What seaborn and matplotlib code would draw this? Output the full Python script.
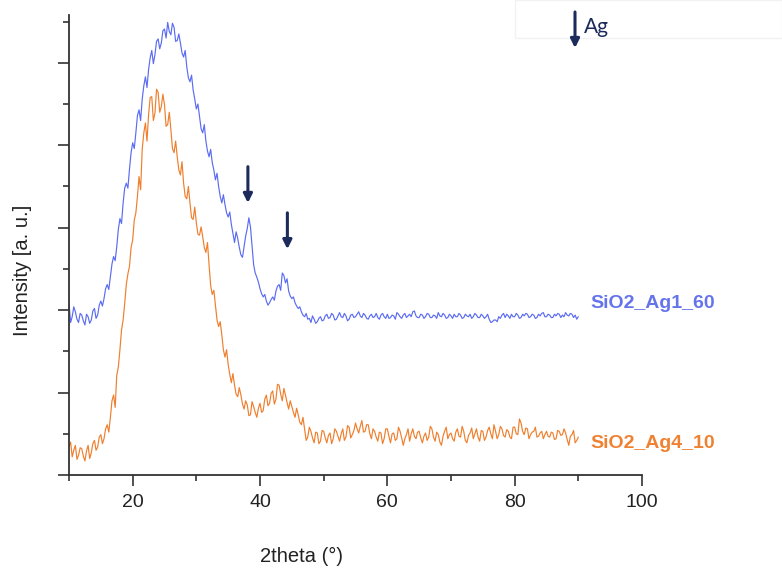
import numpy as np
import pandas as pd
import matplotlib
matplotlib.use("Agg")
import matplotlib.pyplot as plt
import seaborn as sns
from matplotlib.ticker import MultipleLocator, NullFormatter
from matplotlib.patches import Rectangle, FancyArrowPatch

# ---------------- data ----------------
two_theta_start = 10.0
two_theta_stop = 90.0
two_theta_step = 0.25

series_names = ["SiO2_Ag1_60", "SiO2_Ag4_10"]

# SiO2_Ag1_60 (blue), intensity [a.u.] every 0.25 deg from 10 to 90
ag1_60 = [
    2090, 1850, 1920, 2040, 1980, 1890, 1850, 1960, 1940, 1870, 1820, 1950, 1920, 1840, 1880, 1990, 2020, 1900, 1940, 2060,  # 10
    2110, 2050, 2140, 2260, 2310, 2250, 2400, 2560, 2650, 2600, 2770, 2980, 3110, 3050, 3300, 3480, 3540, 3480, 3710, 3910,  # 15
    4030, 3960, 4150, 4360, 4430, 4300, 4560, 4720, 4830, 4700, 4920, 5060, 5150, 4990, 5100, 5260, 5290, 5170, 5240, 5390,  # 20
    5410, 5300, 5490, 5380, 5340, 5480, 5430, 5260, 5270, 5350, 5240, 5120, 5070, 5150, 4950, 4820, 4770, 4850, 4670, 4560,  # 25
    4440, 4500, 4350, 4200, 4150, 4250, 4050, 3930, 3860, 3950, 3790, 3700, 3580, 3660, 3500, 3380, 3300, 3400, 3280, 3180,  # 30
    3130, 3190, 3040, 2930, 2820, 2950, 2870, 2760, 2670, 2640, 2770, 2900, 2990, 3120, 3010, 2780, 2550, 2450, 2400, 2340,  # 35
    2260, 2200, 2160, 2190, 2110, 2060, 2090, 2130, 2160, 2120, 2230, 2290, 2310, 2240, 2450, 2420, 2330, 2380, 2230, 2170,  # 40
    2140, 2160, 2090, 2050, 2020, 2040, 1980, 1940, 1920, 1960, 1890, 1900, 1850, 1930, 1890, 1840, 1860, 1900, 1920, 1870,  # 45
    1880, 1930, 1950, 1900, 1910, 1960, 1940, 1880, 1890, 1930, 1970, 1920, 1910, 1960, 1930, 1870, 1890, 1940, 1950, 1910,  # 50
    1920, 1950, 1980, 1930, 1910, 1960, 1940, 1900, 1890, 1930, 1950, 1910, 1920, 1960, 1910, 1890, 1940, 1960, 1920, 1900,  # 55
    1950, 1900, 1910, 1940, 1930, 1890, 1970, 1950, 1920, 1900, 1940, 1960, 1910, 1930, 1950, 1920, 1980, 1990, 1930, 1910,  # 60
    1910, 1950, 1940, 1900, 1920, 1960, 1950, 1910, 1910, 1940, 1930, 1900, 1970, 1930, 1920, 1960, 1940, 1900, 1910, 1950,  # 65
    1930, 1900, 1950, 1920, 1920, 1960, 1940, 1900, 1910, 1950, 1930, 1920, 1950, 1900, 1920, 1960, 1940, 1910, 1910, 1950,  # 70
    1930, 1900, 1920, 1950, 1890, 1850, 1860, 1880, 1880, 1860, 1920, 1900, 1940, 1960, 1910, 1950, 1930, 1900, 1950, 1920,  # 75
    1920, 1960, 1940, 1900, 1910, 1950, 1930, 1960, 1950, 1910, 1920, 1950, 1940, 1900, 1910, 1950, 1930, 1960, 1970, 1920,  # 80
    1920, 1950, 1940, 1910, 1910, 1950, 1930, 1960, 1950, 1910, 1940, 1920, 1970, 1940, 1930, 1960, 1950, 1910, 1940, 1890,  # 85
    1920,                                                                                                                    # 90
]

# SiO2_Ag4_10 (orange)
ag4_10 = [
    340, 400, 220, 300, 360, 190, 240, 330, 320, 230, 170, 290, 360, 200, 270, 380, 420, 300, 340, 460,                      # 10
    490, 380, 440, 560, 610, 520, 700, 900, 970, 820, 1210, 1310, 1520, 1760, 1880, 2080, 2310, 2440, 2530, 2760,            # 15
    2850, 3090, 3180, 3380, 3620, 3460, 3950, 4150, 4270, 4050, 4370, 4580, 4590, 4300, 4390, 4680, 4640, 4400, 4470, 4620,  # 20
    4490, 4230, 4250, 4400, 4190, 3960, 3910, 4050, 3860, 3700, 3640, 3800, 3540, 3380, 3350, 3500, 3300, 3120, 3100, 3250,  # 25
    3060, 2920, 2910, 3010, 2890, 2760, 2700, 2820, 2550, 2300, 2190, 2240, 2060, 1880, 1800, 1860, 1700, 1520, 1430, 1520,  # 30
    1340, 1220, 1120, 1230, 1090, 980, 950, 1060, 970, 860, 800, 900, 850, 720, 730, 890, 830, 760, 700, 810,                # 35
    870, 760, 780, 920, 970, 840, 870, 990, 1020, 860, 920, 1100, 1090, 980, 900, 1050, 970, 880, 800, 900,                  # 40
    830, 760, 700, 810, 730, 640, 610, 700, 560, 420, 460, 580, 530, 450, 390, 520, 510, 380, 410, 540,                      # 45
    530, 450, 390, 480, 510, 380, 440, 560, 530, 470, 410, 500, 560, 420, 460, 600, 580, 450, 490, 540,                      # 50
    630, 560, 510, 590, 660, 520, 530, 610, 610, 500, 440, 560, 530, 460, 410, 520, 510, 380, 440, 560,                      # 55
    560, 470, 390, 500, 510, 420, 440, 580, 530, 450, 360, 440, 490, 560, 410, 500, 560, 470, 440, 520,                      # 60
    530, 450, 390, 470, 510, 420, 460, 590, 560, 460, 410, 520, 490, 400, 360, 470, 530, 580, 440, 490,                      # 65
    510, 440, 410, 520, 560, 470, 460, 590, 530, 420, 390, 480, 510, 570, 440, 500, 560, 460, 410, 540,                      # 70
    530, 420, 460, 540, 580, 500, 440, 610, 530, 440, 490, 590, 560, 480, 460, 550, 530, 460, 440, 580,                      # 75
    580, 500, 490, 680, 630, 530, 490, 570, 560, 440, 490, 520, 530, 580, 460, 470, 510, 530, 440, 490,                      # 80
    530, 470, 460, 520, 510, 430, 440, 540, 530, 480, 490, 560, 510, 430, 360, 470, 490, 540, 390, 420,                      # 85
    460,                                                                                                                     # 90
]

ag_peaks = [38.1, 44.3]               # Ag reflections marked by arrows
ag_arrow_tops = [3740, 3180]
ag_arrow_tips = [3300, 2740]

x_ticks = [20, 40, 60, 80, 100]

# ---------------- build table ----------------
two_theta = np.round(np.arange(two_theta_start, two_theta_stop + two_theta_step / 2, two_theta_step), 2)
df = pd.DataFrame({
    "2theta": np.concatenate([two_theta, two_theta]),
    "Intensity": ag1_60 + ag4_10,
    "sample": [series_names[0]] * len(ag1_60) + [series_names[1]] * len(ag4_10),
})

blue_line = "#5b6cf2"
blue_text = "#6674ec"
orange_line = "#ef7f2d"
orange_text = "#ee8232"
navy = "#1c2a5c"

sns.set_theme(style="ticks")
plt.rcParams["font.family"] = ["Liberation Sans", "DejaVu Sans"]

fig = plt.figure(figsize=(7.82, 5.72), dpi=100)
W, H = 782, 572
ax = fig.add_axes([69 / W, 1 - 475 / H, (642 - 69) / W, (475 - 15) / H])

sns.lineplot(data=df, x="2theta", y="Intensity", hue="sample",
             palette={series_names[0]: blue_line, series_names[1]: orange_line},
             estimator=None, sort=False, linewidth=0.85, legend=False, ax=ax)

ax.set_xlim(10, 100)
ax.set_ylim(0, 5580)
ax.set_xticks(x_ticks)
ax.xaxis.set_minor_locator(MultipleLocator(10))
ax.yaxis.set_major_locator(MultipleLocator(1000))
ax.yaxis.set_minor_locator(MultipleLocator(500))
ax.yaxis.set_major_formatter(NullFormatter())
ax.set_xlabel("")
ax.set_ylabel("")
for s in ["top", "right"]:
    ax.spines[s].set_visible(False)
for s in ["left", "bottom"]:
    ax.spines[s].set_color("#333333")
    ax.spines[s].set_linewidth(1.3)
ax.tick_params(which="major", length=8, width=1.2, color="#333333", direction="out",
               labelsize=14, labelcolor="#222222", pad=6)
ax.tick_params(which="minor", length=4.5, width=1.2, color="#333333", direction="out")

# Ag arrows
for xp, yt, yb in zip(ag_peaks, ag_arrow_tops, ag_arrow_tips):
    ax.annotate("", xy=(xp, yb), xytext=(xp, yt),
                arrowprops=dict(arrowstyle="-|>", color=navy, lw=2.2, mutation_scale=13,
                                shrinkA=0, shrinkB=0))

# series labels
fig.text(590 / W, 1 - 304 / H, series_names[0], color=blue_text, fontsize=14,
         fontweight="bold", ha="left", va="center")
fig.text(590 / W, 1 - 443 / H, series_names[1], color=orange_text, fontsize=14,
         fontweight="bold", ha="left", va="center")

# axis labels
fig.text(302 / W, 1 - 556 / H, "2theta (°)", fontsize=14.5, color="#222222",
         ha="center", va="center")
fig.text(23 / W, 1 - 270 / H, "Intensity [a. u.]", fontsize=14.5, color="#222222",
         rotation=90, ha="center", va="center")

# legend box (top right)
fig.patches.append(Rectangle((515 / W, 1 - 38 / H), (W - 515) / W, 38 / H,
                             transform=fig.transFigure, facecolor="white",
                             edgecolor="#f2f2f2", linewidth=1.0, zorder=0))
fig.patches.append(FancyArrowPatch((575 / W, 1 - 12 / H), (575 / W, 1 - 48 / H),
                                   transform=fig.transFigure, arrowstyle="-|>",
                                   mutation_scale=13, color=navy, lw=2.2,
                                   shrinkA=0, shrinkB=0))
fig.text(584 / W, 1 - 27 / H, "Ag", fontsize=15, color=navy, family=["Lato", "DejaVu Sans"],
         ha="left", va="center")

fig.savefig("out.png", dpi=100)
